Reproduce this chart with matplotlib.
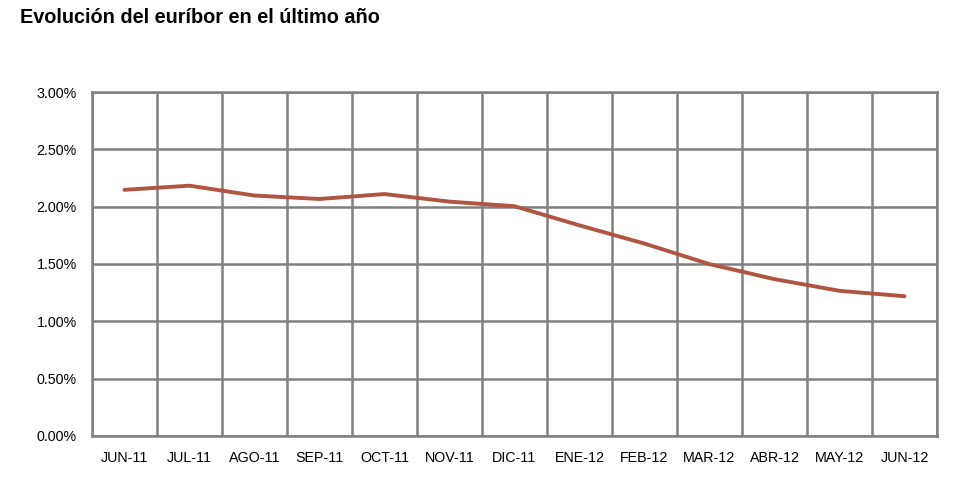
import matplotlib
matplotlib.use("Agg")
import matplotlib.pyplot as plt
import numpy as np
from matplotlib.ticker import FuncFormatter, FixedLocator

# datos del euribor (medias mensuales, %)
meses = ["JUN-11", "JUL-11", "AGO-11", "SEP-11", "OCT-11", "NOV-11", "DIC-11",
         "ENE-12", "FEB-12", "MAR-12", "ABR-12", "MAY-12", "JUN-12"]
euribor = [2.147, 2.183, 2.097, 2.067, 2.110, 2.044, 2.004,
           1.837, 1.678, 1.499, 1.368, 1.266, 1.219]
y_ticks = [0.0, 0.5, 1.0, 1.5, 2.0, 2.5, 3.0]

plt.rcParams['font.family'] = ['Liberation Sans', 'DejaVu Sans']

fig = plt.figure(figsize=(9.61, 4.78), dpi=100)
ax = fig.add_axes([0.0957, 0.0879, 0.8793, 0.7196])

x = np.arange(len(meses))
ax.plot(x, euribor, color="#b0553f", lw=2.8, solid_capstyle="round", zorder=3)

ax.set_xlim(-0.5, len(meses) - 0.5)
ax.set_ylim(0, 3)
ax.set_xticks(x)
ax.set_xticklabels(meses, fontsize=10.3)
ax.xaxis.set_minor_locator(FixedLocator(np.arange(-0.5, len(meses), 1)))
ax.set_yticks(y_ticks)
ax.yaxis.set_major_formatter(FuncFormatter(lambda v, p: "%.2f%%" % v))
ax.tick_params(axis="y", labelsize=10.3, length=0, pad=11)
ax.tick_params(axis="x", which="both", length=0, pad=11)

ax.grid(True, axis="y", which="major", color="#808080", lw=1.8)
ax.grid(True, axis="x", which="minor", color="#808080", lw=1.8)
ax.grid(False, axis="x", which="major")
for s in ax.spines.values():
    s.set_color("#808080")
    s.set_linewidth(1.8)

fig.text(0.021, 0.963, "Evolución del euríbor en el último año",
         fontsize=14.3, fontweight="bold", ha="left", va="center")

fig.savefig("out.png", dpi=100)
